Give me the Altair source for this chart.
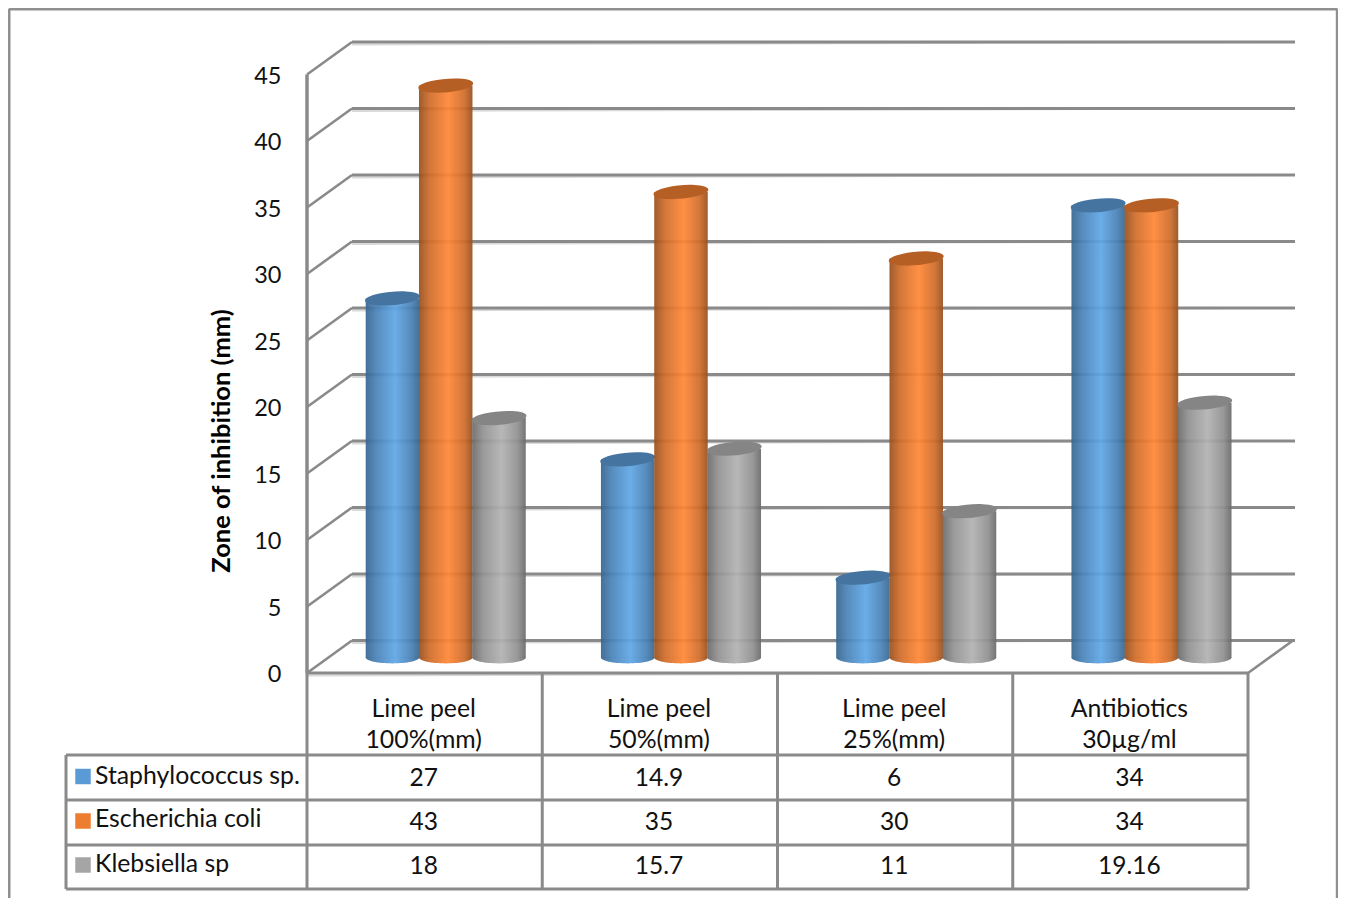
import altair as alt
import pandas as pd

# ---- values ----
cat_line1 = ["Lime peel", "Lime peel", "Lime peel", "Antibiotics"]
cat_line2 = ["100%(mm)", "50%(mm)", "25%(mm)", "30µg/ml"]
series_names = ["Staphylococcus sp.", "Escherichia coli", "Klebsiella sp"]
staph = [27, 14.9, 6, 34]
ecoli = [43, 35, 30, 34]
kleb = [18, 15.7, 11, 19.16]
series_values = [staph, ecoli, kleb]
y_ticks = [0, 5, 10, 15, 20, 25, 30, 35, 40, 45]
y_title = "Zone of inhibition (mm)"

# ---- layout ----
W, H = 1330, 890
FONT = "Lato"
FS = 24.8
LINE = "#8a8a8a"
SHADOW = "#d9d9d9"
PX_X, PX_Y = 235.25, 13.3


def xv(px):
    return (px - 307) / PX_X


def yv(py):
    return (673 - py) / PX_Y


xs = alt.Scale(domain=[xv(8), xv(8 + W)], nice=False, zero=False)
ys = alt.Scale(domain=[yv(8 + H), yv(8)], nice=False, zero=False)


def XE(f="x"):
    return alt.X(f, type="quantitative", scale=xs, axis=None)


def YE(f="y"):
    return alt.Y(f, type="quantitative", scale=ys, axis=None)


def seg(rows, **mk):
    df = pd.DataFrame(rows, columns=["x", "y", "x2", "y2"])
    return alt.Chart(df).mark_rule(**mk).encode(XE(), YE(), x2="x2:Q", y2="y2:Q")


def text(rows, **mk):
    df = pd.DataFrame(rows, columns=["x", "y", "t"])
    base = dict(font=FONT, fontSize=FS, color="#111111", baseline="middle")
    base.update(mk)
    return alt.Chart(df).mark_text(**base).encode(XE(), YE(), text="t:N")


def grad(stops):
    return {
        "gradient": "linear", "x1": 0, "x2": 1, "y1": 0, "y2": 0,
        "stops": [{"offset": o, "color": c} for o, c in stops],
    }


series_style = [
    dict(swatch="#5b9bd5", cap="#44749f",
         body=[(0, "#37668f"), (0.2, "#4a83b8"), (0.55, "#60a7e6"), (0.85, "#4a82b6"), (1, "#38678f")]),
    dict(swatch="#ed7d31", cap="#b65f25",
         body=[(0, "#98501e"), (0.2, "#d06d2b"), (0.55, "#ff8736"), (0.85, "#cf6c2a"), (1, "#98501e")]),
    dict(swatch="#a5a5a5", cap="#858585",
         body=[(0, "#6b6b6b"), (0.2, "#929292"), (0.55, "#b2b2b2"), (0.85, "#909090"), (1, "#6a6a6a")]),
]

DX = xv(352) - xv(307)
DZ = yv(640.5)
x_right = xv(1295)

layers = []

# frame of the picture
layers.append(seg([
    [xv(9), yv(9), xv(1337.3), yv(9)],
    [xv(9), yv(9), xv(9), yv(8 + H)],
    [xv(1337.3), yv(9), xv(1337.3), yv(8 + H)],
], color="#909090", strokeWidth=3))

# back wall gridlines and their shadow
back = [[DX, t + DZ, x_right, t + DZ] for t in y_ticks]
layers.append(seg(back, color=SHADOW, strokeWidth=2, yOffset=2.5))
layers.append(seg(back, color=LINE, strokeWidth=3))
# side wall diagonals and floor
diag = [[0, t, DX, t + DZ] for t in y_ticks] + [[4, 0, 4 + DX, DZ]]
layers.append(seg(diag, color=LINE, strokeWidth=2.6))
# value axis line
layers.append(seg([[0, 0, 0, 45]], color=LINE, strokeWidth=3.5))

# cylinders
BASE = yv(657.5)
BAR_W = 53.5 / PX_X
CAP = "M-0.996,0.087 A1,0.24,-5,1,1,0.996,-0.087 A1,0.24,-5,1,1,-0.996,0.087 Z"
FOOT = "M-1,-0.02 L-1,0 A1,0.22,0,0,0,1,0 L1,-0.02 Z"
E_SIZE = 55 ** 2
F_SIZE = 53.5 ** 2
for s, (vals, st) in enumerate(zip(series_values, series_style)):
    df = pd.DataFrame({
        "x": [c + 0.2495 + s * 0.2265 for c in range(4)],
        "v": vals,
    })
    df["x2"] = df["x"] + BAR_W
    df["xc"] = df["x"] + BAR_W / 2
    df["top"] = df["v"] + BASE
    df["base"] = BASE
    base = alt.Chart(df)
    layers.append(base.mark_point(shape=FOOT, size=F_SIZE, filled=True, opacity=0.93,
                                  fill=grad(st["body"]), strokeWidth=0)
                  .encode(XE("xc"), YE("base")))
    layers.append(base.mark_bar(fill=grad(st["body"]), opacity=0.93, strokeWidth=0)
                  .encode(XE("x"), x2="x2:Q", y=YE("top"), y2="base:Q"))
    layers.append(base.mark_point(shape=CAP, size=E_SIZE, filled=True, opacity=1,
                                  fill=st["cap"], strokeWidth=0)
                  .encode(XE("xc"), YE("top")))

# data table lines
row_y = [755, 800, 845, 889]
layers.append(seg([[0, 0, 4, 0]], color=SHADOW, strokeWidth=2, yOffset=2.5))
table = [[0, 0, 4, 0]]
table += [[xv(66), yv(p), 4, yv(p)] for p in row_y]
table += [[c, 0, c, yv(row_y[-1])] for c in range(5)]
table += [[xv(66), yv(row_y[0]), xv(66), yv(row_y[-1])]]
layers.append(seg(table, color=LINE, strokeWidth=3))

# tick labels
layers.append(text([[xv(281.5), t - 0.16, str(t)] for t in y_ticks], align="right", fontSize=23.5))
# axis title
layers.append(text([[xv(222), yv(441), y_title]], angle=270, align="center",
                   fontWeight="bold", fontSize=25.5, color="#000000"))
# header cells
CX = 0.496
layers.append(text([[c + CX, yv(709.5), t] for c, t in enumerate(cat_line1)], align="center"))
layers.append(text([[c + CX, yv(740.5), t] for c, t in enumerate(cat_line2)], align="center"))

# rows
row_text_y = [778.5, 822.5, 866.5]
label_y = [777, 820, 864.5]
swatch_y = [776.5, 821, 865]
for s, (name, vals, st) in enumerate(zip(series_names, series_values, series_style)):
    py = row_text_y[s]
    layers.append(text([[c + CX, yv(py), f"{v:g}"] for c, v in enumerate(vals)], align="center", fontSize=24.5))
    layers.append(text([[xv(95), yv(label_y[s]), name]], align="left"))
    sw = pd.DataFrame({"x": [xv(83)], "y": [yv(swatch_y[s])]})
    layers.append(alt.Chart(sw).mark_square(size=240, color=st["swatch"], opacity=1)
                  .encode(XE(), YE()))

chart = alt.layer(*layers).properties(
    width=W, height=H, padding=0, autosize=alt.AutoSizeParams(type="none"),
).configure_view(stroke=None).configure(background="white")

chart.save("out.html", embed_options={"renderer": "svg", "actions": False})
